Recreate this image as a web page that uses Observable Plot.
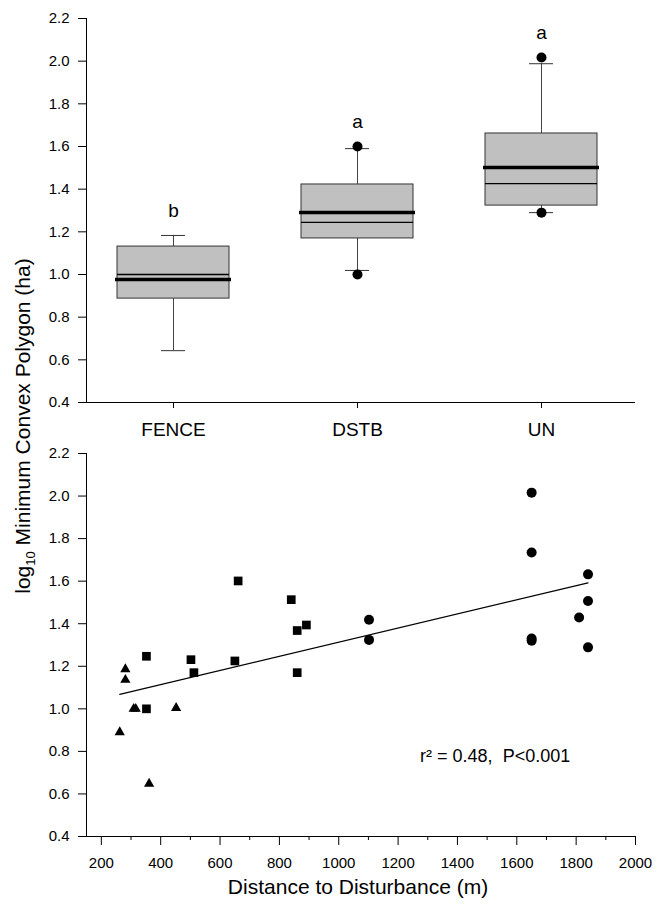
<!DOCTYPE html>
<html>
<head>
<meta charset="utf-8">
<script src="https://cdn.jsdelivr.net/npm/d3@7"></script>
<script src="https://cdn.jsdelivr.net/npm/@observablehq/plot@0.6"></script>
<style>
  html, body { margin: 0; padding: 0; background: #fff; }
  body { font-family: Arial, "Liberation Sans", sans-serif; color: #000; }
  #wrap { position: relative; width: 664px; height: 905px; overflow: hidden; }
  #wrap svg { position: absolute; left: 0; overflow: visible; background: transparent; }
  .title { position: absolute; white-space: nowrap; font-size: 21px; transform: translate(-50%, -50%); }
  .ytitle { transform: translate(-50%, -50%) rotate(-90deg); }
  .ytitle sub { font-size: 13px; vertical-align: -5px; line-height: 0; }
</style>
</head>
<body>
<div id="wrap">
  <div class="title ytitle" style="left:23px; top:426px;">log<sub>10</sub> Minimum Convex Polygon (ha)</div>
  <div class="title" style="left:358px; top:887px;">Distance to Disturbance (m)</div>
</div>
<script>
// ---- Box plot summaries (top panel) ----
const groups    = ["FENCE", "DSTB", "UN"];
const q1        = [0.887, 1.169, 1.323];
const median    = [1.000, 1.244, 1.426];
const mean      = [0.976, 1.291, 1.501];
const q3        = [1.131, 1.422, 1.661];
const whiskerLo = [0.643, 1.019, 1.290];
const whiskerHi = [1.183, 1.590, 1.988];
const letters   = ["b", "a", "a"];
const outlierGroup = ["DSTB", "DSTB", "UN", "UN"];
const outlierValue = [1.600, 1.000, 2.017, 1.290];

// ---- Tick values ----
const yTicks = [0.4, 0.6, 0.8, 1.0, 1.2, 1.4, 1.6, 1.8, 2.0, 2.2];
const xTicks = [200, 400, 600, 800, 1000, 1200, 1400, 1600, 1800, 2000];
const xMinorTicks = [300, 500, 700, 900, 1100, 1300, 1500, 1700, 1900];

// ---- Scatter (bottom panel) ----
const fenceDist = [262, 281, 281, 309, 316, 361, 452];
const fenceMcp  = [0.890, 1.186, 1.136, 1.000, 1.000, 0.648, 1.004];
const dstbDist  = [352, 352, 502, 512, 650, 661, 840, 860, 891, 860];
const dstbMcp   = [1.247, 1.000, 1.231, 1.170, 1.225, 1.601, 1.513, 1.368, 1.394, 1.170];
const unDist    = [1102, 1102, 1650, 1650, 1650, 1650, 1810, 1840, 1840, 1840];
const unMcp     = [1.419, 1.324, 2.016, 1.735, 1.330, 1.320, 1.429, 1.632, 1.507, 1.289];
const fitDist   = [262, 1840];
const fitMcp    = [1.068, 1.592];
const statText  = "r² = 0.48,  P<0.001";

const boxes = groups.map((g, i) => ({
  group: g, q1: q1[i], median: median[i], mean: mean[i], q3: q3[i],
  lo: whiskerLo[i], hi: whiskerHi[i], letter: letters[i]
}));
const outliers = outlierGroup.map((g, i) => ({group: g, value: outlierValue[i]}));
boxes.forEach(b => {
  b.top = Math.max(b.hi, ...outliers.filter(o => o.group === b.group).map(o => o.value));
});

const font = "Arial, 'Liberation Sans', sans-serif";
const wrap = document.getElementById("wrap");

const topPlot = Plot.plot({
  width: 664, height: 450,
  marginTop: 18, marginBottom: 48, marginLeft: 86, marginRight: 29,
  style: {fontFamily: font, fontSize: "15px", background: "transparent", overflow: "visible", color: "#000"},
  x: {type: "band", domain: groups, paddingInner: 0.39, paddingOuter: 0.18, align: 0.45, axis: null},
  y: {domain: [0.4, 2.2], ticks: yTicks, tickSize: 8, tickPadding: 9, tickFormat: ".1f", label: null, line: true},
  marks: [
    Plot.ruleY([0.4], {stroke: "#000"}),
    Plot.axisX({ticks: groups, tickSize: 6, tickPadding: 14, fontSize: 19, label: null}),
    Plot.ruleX(boxes, {x: "group", y1: "q3", y2: "hi", stroke: "#444"}),
    Plot.ruleX(boxes, {x: "group", y1: "lo", y2: "q1", stroke: "#444"}),
    Plot.tickY(boxes, {x: "group", y: "hi", stroke: "#333", insetLeft: 44, insetRight: 44}),
    Plot.tickY(boxes, {x: "group", y: "lo", stroke: "#333", insetLeft: 44, insetRight: 44}),
    Plot.barY(boxes, {x: "group", y1: "q1", y2: "q3", fill: "#c0c0c0", stroke: "#333", strokeWidth: 1}),
    Plot.tickY(boxes, {x: "group", y: "median", stroke: "#000", strokeWidth: 1.3}),
    Plot.tickY(boxes, {x: "group", y: "mean", stroke: "#000", strokeWidth: 3.5, insetLeft: -2, insetRight: -2}),
    Plot.dot(outliers, {x: "group", y: "value", r: 5, fill: "#000", stroke: "none"}),
    Plot.text(boxes, {x: "group", y: "top", text: "letter", dy: -25, fontSize: 19})
  ]
});
topPlot.style.top = "0px";
wrap.appendChild(topPlot);

const bottomPlot = Plot.plot({
  width: 664, height: 475,
  marginTop: 23, marginBottom: 69, marginLeft: 86, marginRight: 29,
  style: {fontFamily: font, fontSize: "15px", background: "transparent", overflow: "visible", color: "#000"},
  x: {domain: [150, 2000], axis: null},
  y: {domain: [0.4, 2.2], ticks: yTicks, tickSize: 8, tickPadding: 9, tickFormat: ".1f", label: null},
  marks: [
    Plot.ruleY([0.4], {stroke: "#000"}),
    Plot.ruleX([150], {stroke: "#000"}),
    Plot.axisX({ticks: xTicks, tickSize: 9, tickPadding: 12, tickFormat: d => String(d), label: null}),
    Plot.axisX({ticks: xMinorTicks, tickSize: 4, tickFormat: () => "", label: null}),
    Plot.line(fitDist.map((d, i) => ({x: d, y: fitMcp[i]})), {x: "x", y: "y", stroke: "#000", strokeWidth: 1.2}),
    Plot.dot(fenceDist.map((d, i) => ({x: d, y: fenceMcp[i]})), {x: "x", y: "y", symbol: "triangle", r: 3.8, fill: "#000", stroke: "none"}),
    Plot.dot(dstbDist.map((d, i) => ({x: d, y: dstbMcp[i]})), {x: "x", y: "y", symbol: "square", r: 4.9, fill: "#000", stroke: "none"}),
    Plot.dot(unDist.map((d, i) => ({x: d, y: unMcp[i]})), {x: "x", y: "y", symbol: "circle", r: 5, fill: "#000", stroke: "none"}),
    Plot.text([statText], {x: 1527, y: 0.776, text: d => d, fontSize: 18})
  ]
});
bottomPlot.style.top = "430px";
wrap.appendChild(bottomPlot);
</script>
</body>
</html>
